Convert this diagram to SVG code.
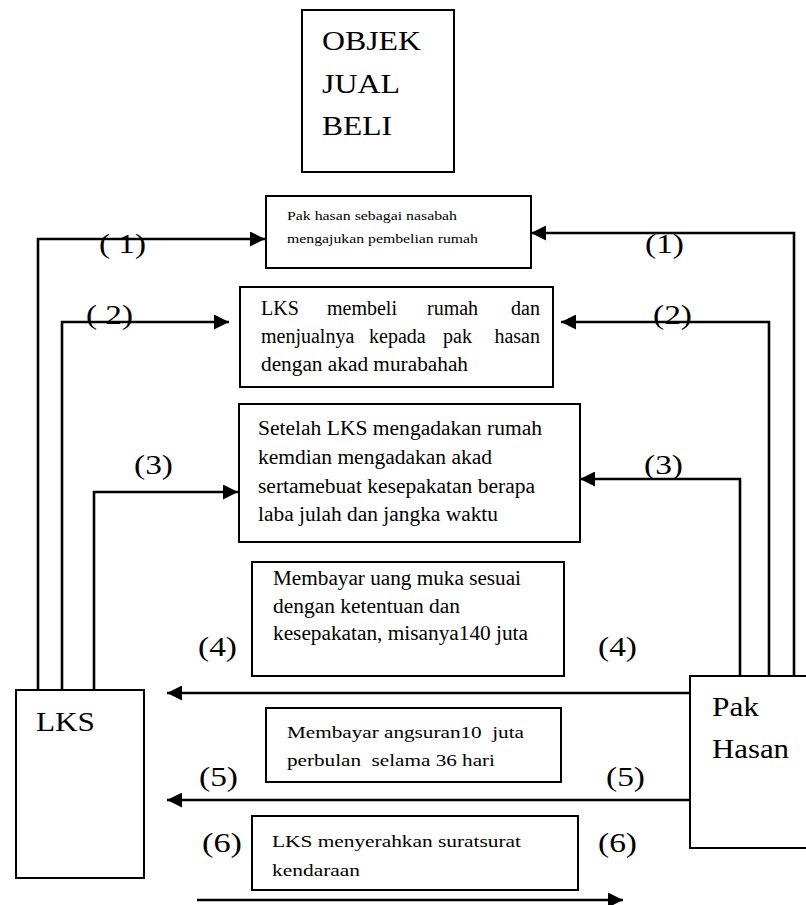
<svg xmlns="http://www.w3.org/2000/svg" width="806" height="905" viewBox="0 0 806 905" font-family="'Liberation Serif', 'Times New Roman', 'DejaVu Serif', serif">
<style>
  text { font-family: 'Liberation Serif', 'Times New Roman', 'DejaVu Serif', serif; fill: #000; }
  .box { fill: #fff; stroke: #000; stroke-width: 2; }
  .ln { fill: none; stroke: #000; stroke-width: 2.6; }
  .big { font-size: 28px; }
  .lbl { font-size: 28px; }
  .t1 { font-size: 13.5px; }
  .t2 { font-size: 20px; }
  .t5 { font-size: 17px; }
</style>
<defs>
  <marker id="ah" markerUnits="userSpaceOnUse" markerWidth="16" markerHeight="15" refX="15" refY="7.5" orient="auto">
    <path d="M0,0 L15,7.5 L0,15 Z" fill="#000"/>
  </marker>
</defs>
<rect width="806" height="905" fill="#fff"/>

<g id="connectors">
  <polyline class="ln" points="38,694 38,239 265,239" marker-end="url(#ah)"/>
  <polyline class="ln" points="794,676 794,233 531,233" marker-end="url(#ah)"/>
  <polyline class="ln" points="62,690 62,322 229,322" marker-end="url(#ah)"/>
  <polyline class="ln" points="769,676 769,322 561,322" marker-end="url(#ah)"/>
  <polyline class="ln" points="94,690 94,492 238,492" marker-end="url(#ah)"/>
  <polyline class="ln" points="740,676 740,479 580,479" marker-end="url(#ah)"/>
  <line class="ln" x1="690" y1="693" x2="167" y2="693" marker-end="url(#ah)"/>
  <line class="ln" x1="690" y1="800" x2="167" y2="800" marker-end="url(#ah)"/>
  <line class="ln" x1="197" y1="900" x2="623" y2="900" marker-end="url(#ah)"/>
  <g id="labels">
    <text class="lbl" x="99" y="253" textLength="47" lengthAdjust="spacingAndGlyphs" xml:space="preserve">( 1)</text>
    <text class="lbl" x="645" y="253" textLength="39" lengthAdjust="spacingAndGlyphs">(1)</text>
    <text class="lbl" x="86" y="324" textLength="47" lengthAdjust="spacingAndGlyphs" xml:space="preserve">( 2)</text>
    <text class="lbl" x="653" y="324" textLength="39" lengthAdjust="spacingAndGlyphs">(2)</text>
    <text class="lbl" x="134" y="474" textLength="39" lengthAdjust="spacingAndGlyphs">(3)</text>
    <text class="lbl" x="644" y="474" textLength="39" lengthAdjust="spacingAndGlyphs">(3)</text>
    <text class="lbl" x="198" y="656" textLength="39" lengthAdjust="spacingAndGlyphs">(4)</text>
    <text class="lbl" x="598" y="656" textLength="39" lengthAdjust="spacingAndGlyphs">(4)</text>
    <text class="lbl" x="199" y="786" textLength="39" lengthAdjust="spacingAndGlyphs">(5)</text>
    <text class="lbl" x="606" y="786" textLength="39" lengthAdjust="spacingAndGlyphs">(5)</text>
    <text class="lbl" x="202" y="852" textLength="40" lengthAdjust="spacingAndGlyphs">(6)</text>
    <text class="lbl" x="598" y="852" textLength="39" lengthAdjust="spacingAndGlyphs">(6)</text>
  </g>
</g>

<g id="objek">
  <rect class="box" x="302" y="10" width="152" height="162"/>
  <text class="big" x="322" y="50" textLength="99" lengthAdjust="spacingAndGlyphs">OBJEK</text>
  <text class="big" x="322" y="93" textLength="78" lengthAdjust="spacingAndGlyphs">JUAL</text>
  <text class="big" x="322" y="135" textLength="70" lengthAdjust="spacingAndGlyphs">BELI</text>
</g>

<g id="step1">
  <rect class="box" x="266" y="196" width="265" height="72"/>
  <text class="t1" x="287" y="220" textLength="170" lengthAdjust="spacingAndGlyphs">Pak hasan sebagai nasabah</text>
  <text class="t1" x="287" y="243" textLength="191" lengthAdjust="spacingAndGlyphs">mengajukan pembelian rumah</text>
</g>

<g id="step2">
  <rect class="box" x="240" y="287" width="313" height="100"/>
  <text class="t2" y="315"><tspan x="261">LKS</tspan><tspan x="327">membeli</tspan><tspan x="427">rumah</tspan></text>
  <text class="t2" x="540" y="315" text-anchor="end">dan</text>
  <text class="t2" y="343"><tspan x="261">menjualnya</tspan><tspan x="369">kepada</tspan><tspan x="443">pak</tspan></text>
  <text class="t2" x="540" y="343" text-anchor="end">hasan</text>
  <text class="t2" x="261" y="371" textLength="207" lengthAdjust="spacingAndGlyphs">dengan akad murabahah</text>
</g>

<g id="step3">
  <rect class="box" x="239" y="404" width="341" height="138"/>
  <text class="t2" x="258" y="435" textLength="284" lengthAdjust="spacingAndGlyphs">Setelah LKS mengadakan rumah</text>
  <text class="t2" x="258" y="464" textLength="234" lengthAdjust="spacingAndGlyphs">kemdian mengadakan akad</text>
  <text class="t2" x="258" y="493" textLength="277" lengthAdjust="spacingAndGlyphs">sertamebuat kesepakatan berapa</text>
  <text class="t2" x="258" y="521" textLength="240" lengthAdjust="spacingAndGlyphs">laba julah dan jangka waktu</text>
</g>

<g id="step4">
  <rect class="box" x="252" y="562" width="312" height="114"/>
  <text class="t2" x="273" y="585" textLength="248" lengthAdjust="spacingAndGlyphs">Membayar uang muka sesuai</text>
  <text class="t2" x="273" y="613" textLength="187" lengthAdjust="spacingAndGlyphs">dengan ketentuan dan</text>
  <text class="t2" x="273" y="640" textLength="255" lengthAdjust="spacingAndGlyphs">kesepakatan, misanya140 juta</text>
</g>

<g id="step5">
  <rect class="box" x="266" y="708" width="295" height="74"/>
  <text class="t5" x="287" y="738" textLength="237" lengthAdjust="spacingAndGlyphs" xml:space="preserve">Membayar angsuran10  juta</text>
  <text class="t5" x="287" y="766" textLength="208" lengthAdjust="spacingAndGlyphs" xml:space="preserve">perbulan  selama 36 hari</text>
</g>

<g id="step6">
  <rect class="box" x="252" y="816" width="326" height="74"/>
  <text class="t5" x="272" y="847" textLength="249" lengthAdjust="spacingAndGlyphs">LKS menyerahkan suratsurat</text>
  <text class="t5" x="272" y="876" textLength="88" lengthAdjust="spacingAndGlyphs">kendaraan</text>
</g>

<g id="lks">
  <rect class="box" x="16" y="690" width="128" height="188"/>
  <text class="big" x="36" y="731" textLength="59" lengthAdjust="spacingAndGlyphs">LKS</text>
</g>

<g id="pak-hasan">
  <rect class="box" x="690" y="676" width="130" height="172"/>
  <text class="big" x="712" y="716" textLength="47" lengthAdjust="spacingAndGlyphs">Pak</text>
  <text class="big" x="712" y="758" textLength="77" lengthAdjust="spacingAndGlyphs">Hasan</text>
</g>
</svg>
